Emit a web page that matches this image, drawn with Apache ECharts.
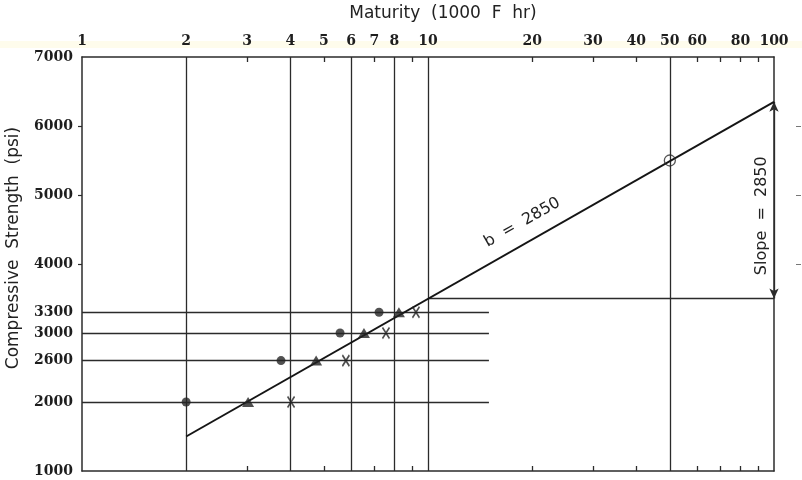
<!DOCTYPE html>
<html>
<head>
<meta charset="utf-8">
<script src="https://cdn.jsdelivr.net/npm/echarts@6/dist/echarts.min.js"></script>
<style>html,body{margin:0;padding:0;background:#fff}#c{width:802px;height:480px}</style>
</head>
<body>
<div id="c"></div>
<script>
// ---- data ----
const xLabelValues = [1, 2, 3, 4, 5, 6, 7, 8, 10, 20, 30, 40, 50, 60, 80, 100];
const xMinorTicks = [3, 5, 7, 9, 20, 30, 40, 60, 70, 80, 90];
const xGridLines = [2, 4, 6, 8, 10, 50];
const yLabelValues = [1000, 2000, 2600, 3000, 3300, 4000, 5000, 6000, 7000];
const yTicks = [4000, 5000, 6000];
const strengthLevels = [2000, 2600, 3000, 3300];
const levelLineEnd = 15;
const circleMaturity = [2.0, 3.76, 5.57, 7.22];
const triangleMaturity = [3.02, 4.75, 6.53, 8.24];
const crossMaturity = [4.02, 5.79, 7.56, 9.23];
const fitLine = [[2, 1500], [100, 6350]];
const openPoint = [50, 5500];
const slopeBase = 3500;
const slopeTop = 6350;
const slopeFrom = 10;
const slopeAt = 100;
const slopeText = 'Slope  =  2850';
const bText = 'b  =  2850';
const xTitle = 'Maturity  (1000  F  hr)';
const yTitle = 'Compressive  Strength  (psi)';

const INK = '#2b2b2b';
const tickFont = { fontFamily: 'DejaVu Serif', fontWeight: 'bold', color: '#1e1e1e' };

const chart = echarts.init(document.getElementById('c'), null, { renderer: 'canvas' });

function pts(xs) { return xs.map((x, i) => [x, strengthLevels[i]]); }

const option = {
  backgroundColor: '#fff',
  animation: false,
  grid: { left: 82, right: 28, top: 57, bottom: 9 },
  xAxis: [
    {
      type: 'log', logBase: 10, min: 1, max: 100, position: 'top',
      axisLine: { show: true, lineStyle: { color: INK, width: 1.5 } },
      axisTick: { show: true, inside: true, length: 5, customValues: xMinorTicks, lineStyle: { color: INK, width: 1.3 } },
      axisLabel: { show: true, customValues: xLabelValues, margin: 9, fontSize: 14, formatter: v => String(v), ...tickFont },
      splitLine: { show: false }, minorTick: { show: false }, minorSplitLine: { show: false }
    },
    {
      type: 'log', logBase: 10, min: 1, max: 100, position: 'bottom',
      axisLine: { show: true, lineStyle: { color: INK, width: 1.5 } },
      axisTick: { show: true, inside: true, length: 5, customValues: xMinorTicks, lineStyle: { color: INK, width: 1.3 } },
      axisLabel: { show: false },
      splitLine: { show: false }
    }
  ],
  yAxis: [
    {
      type: 'value', min: 1000, max: 7000, position: 'left',
      axisLine: { show: true, lineStyle: { color: INK, width: 1.5 } },
      axisTick: { show: true, inside: false, length: 4, customValues: yTicks, lineStyle: { color: INK, width: 1.2 } },
      axisLabel: { show: true, customValues: yLabelValues, margin: 9, fontSize: 14, formatter: v => String(v), ...tickFont },
      splitLine: { show: false }
    },
    {
      type: 'value', min: 1000, max: 7000, position: 'right',
      axisLine: { show: true, lineStyle: { color: INK, width: 1.5 } },
      axisTick: { show: false }, axisLabel: { show: false }, splitLine: { show: false }
    },
    {
      type: 'value', min: 1000, max: 7000, position: 'right', offset: 22,
      axisLine: { show: true, lineStyle: { color: 'rgba(0,0,0,0)' } },
      axisTick: { show: true, length: 5, customValues: yTicks, lineStyle: { color: '#777', width: 1 } },
      axisLabel: { show: false }, splitLine: { show: false }
    }
  ],
  series: [
    {
      name: 'grid', type: 'line', xAxisIndex: 0, yAxisIndex: 0, data: [], silent: true,
      markLine: {
        silent: true, symbol: ['none', 'none'], label: { show: false },
        lineStyle: { color: INK, width: 1.3, type: 'solid' },
        data: xGridLines.map(v => ({ xAxis: v }))
          .concat(strengthLevels.map(v => [{ coord: [1, v] }, { coord: [levelLineEnd, v] }]))
          .concat([[{ coord: [slopeFrom, slopeBase] }, { coord: [slopeAt, slopeBase] }]])
      }
    },
    {
      name: 'slope', type: 'line', xAxisIndex: 0, yAxisIndex: 0, data: [], silent: true,
      markLine: {
        silent: true, symbol: ['arrow', 'arrow'], symbolSize: [7, 10], label: { show: false },
        lineStyle: { color: INK, width: 1.3, type: 'solid' },
        data: [[{ coord: [slopeAt, slopeTop] }, { coord: [slopeAt, slopeBase] }]]
      }
    },
    {
      name: 'fit', type: 'line', xAxisIndex: 0, yAxisIndex: 0, data: fitLine,
      showSymbol: false, symbol: 'none', lineStyle: { color: '#151515', width: 2 }, z: 5
    },
    {
      name: 'open', type: 'scatter', xAxisIndex: 0, yAxisIndex: 0, data: [openPoint],
      symbol: 'circle', symbolSize: 11,
      itemStyle: { color: 'rgba(255,255,255,0)', borderColor: INK, borderWidth: 1.3 }, z: 6
    },
    {
      name: 'circles', type: 'scatter', xAxisIndex: 0, yAxisIndex: 0, data: pts(circleMaturity),
      symbol: 'circle', symbolSize: 9, itemStyle: { color: '#262626' }, z: 6
    },
    {
      name: 'triangles', type: 'scatter', xAxisIndex: 0, yAxisIndex: 0, data: pts(triangleMaturity),
      symbol: 'triangle', symbolSize: [12, 10], itemStyle: { color: '#222' }, z: 6
    },
    {
      name: 'crosses', type: 'scatter', xAxisIndex: 0, yAxisIndex: 0, data: pts(crossMaturity),
      symbol: 'path://M0,0L8,11M8,0L0,11', symbolSize: [7, 11],
      itemStyle: { color: 'rgba(0,0,0,0)', borderColor: '#222', borderWidth: 1.8 }, z: 6
    }
  ]
};
chart.setOption(option);

function place() {
  const bPos = chart.convertToPixel({ xAxisIndex: 0, yAxisIndex: 0 }, [20, 4350]);
  const sPos = chart.convertToPixel({ xAxisIndex: 0, yAxisIndex: 0 }, [slopeAt, 4700]);
  const p1 = chart.convertToPixel({ xAxisIndex: 0, yAxisIndex: 0 }, fitLine[0]);
  const p2 = chart.convertToPixel({ xAxisIndex: 0, yAxisIndex: 0 }, fitLine[1]);
  const ang = Math.atan2(p1[1] - p2[1], p2[0] - p1[0]);
  const off = 20;
  chart.setOption({
    graphic: [
      { type: 'rect', z: -10, left: 0, top: 41, shape: { width: 802, height: 7 },
        style: { fill: 'rgba(252,246,200,0.35)' }, silent: true },
      { type: 'text', x: 443, y: 14, style: { text: xTitle, font: '17px "DejaVu Sans"', fill: '#222', align: 'center', verticalAlign: 'middle' } },
      { type: 'text', x: 14, y: 248, rotation: Math.PI / 2, style: { text: yTitle, font: '17px "DejaVu Sans"', fill: '#222', align: 'center', verticalAlign: 'middle' } },
      { type: 'text', x: bPos[0] - off * Math.sin(ang), y: bPos[1] - off * Math.cos(ang), rotation: ang,
        style: { text: bText, font: '16px "DejaVu Sans"', fill: '#222', align: 'center', verticalAlign: 'middle' } },
      { type: 'text', x: sPos[0] - 12, y: sPos[1], rotation: Math.PI / 2,
        style: { text: slopeText, font: '16px "DejaVu Sans"', fill: '#222', align: 'center', verticalAlign: 'middle' } }
    ]
  });
}
place();
</script>
</body>
</html>
